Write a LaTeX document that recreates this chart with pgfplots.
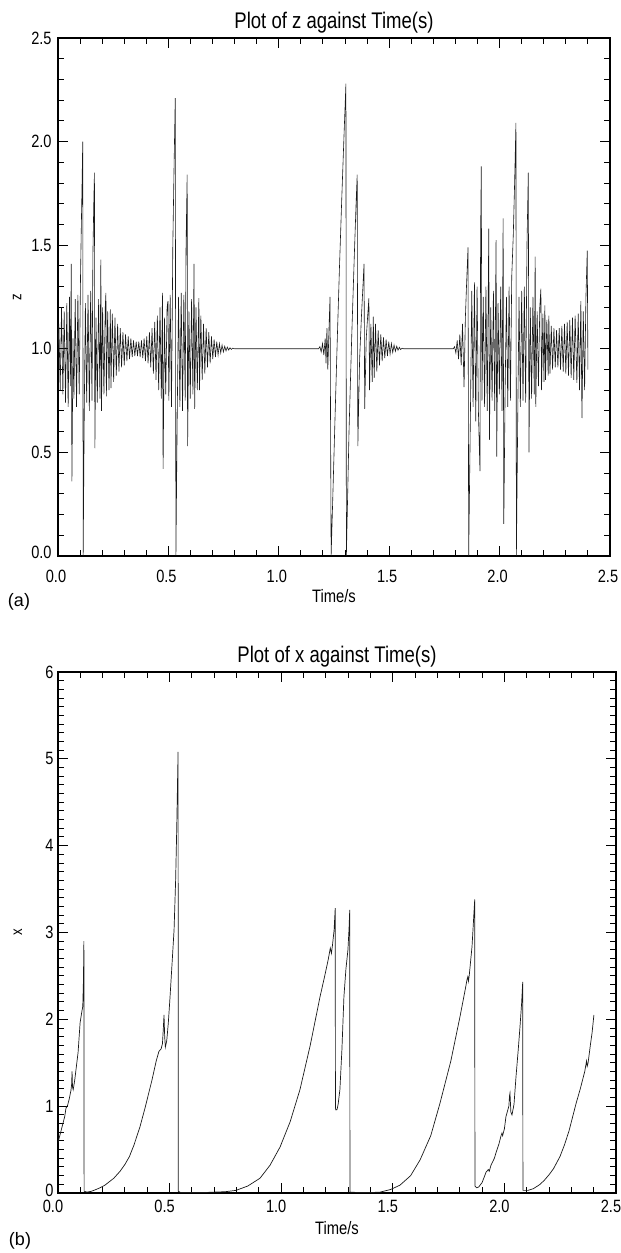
\documentclass[border=0pt]{standalone}
\usepackage{fontspec}
\setmainfont{Liberation Sans}
\newfontfamily\idl{Liberation Sans}[FakeStretch=0.82]
\usepackage{pgfplots}
\pgfplotsset{compat=1.18}
\usepackage{pgfplotstable}

\pgfplotstableread{
t z
0.000 1.00
0.004 1.12
0.010 0.80
0.016 1.20
0.022 0.78
0.028 1.18
0.034 0.74
0.040 1.22
0.046 0.72
0.052 1.25
0.056 0.82
0.060 1.41
0.063 0.36
0.068 1.05
0.072 0.76
0.078 1.24
0.084 0.72
0.090 1.26
0.096 0.78
0.102 1.35
0.105 1.55
0.109 1.80
0.112 2.00
0.114 0.00
0.119 0.70
0.124 1.22
0.130 0.74
0.136 1.26
0.142 0.70
0.148 1.28
0.154 0.75
0.158 1.45
0.162 1.70
0.165 1.85
0.167 0.52
0.172 1.15
0.178 0.74
0.184 1.24
0.190 0.76
0.194 1.43
0.197 0.70
0.202 1.20
0.208 0.78
0.214 1.20
0.217 1.27
0.219 0.77
0.225 1.18
0.231 0.80
0.237 1.19
0.240 0.81
0.246 1.17
0.252 0.84
0.258 1.15
0.264 0.87
0.270 1.12
0.276 0.89
0.282 1.10
0.288 0.91
0.294 1.08
0.300 0.92
0.306 1.07
0.312 0.94
0.318 1.06
0.324 0.95
0.330 1.05
0.336 0.96
0.342 1.04
0.348 0.965
0.354 1.035
0.360 0.965
0.366 1.035
0.372 0.96
0.378 1.04
0.384 0.955
0.390 1.05
0.396 0.94
0.402 1.06
0.408 0.93
0.414 1.08
0.420 0.91
0.426 1.10
0.432 0.88
0.438 1.13
0.444 0.85
0.450 1.16
0.456 0.80
0.462 1.20
0.468 0.76
0.473 1.27
0.476 0.42
0.482 1.15
0.488 0.78
0.494 1.20
0.498 1.23
0.502 0.75
0.508 1.26
0.514 0.72
0.520 1.50
0.526 1.90
0.531 2.21
0.534 0.00
0.540 0.68
0.546 1.25
0.552 0.72
0.558 1.27
0.564 0.70
0.570 1.26
0.576 0.75
0.580 1.50
0.585 1.84
0.587 0.53
0.593 1.18
0.599 0.76
0.605 1.24
0.611 0.78
0.616 1.41
0.619 0.71
0.625 1.20
0.631 0.80
0.638 1.245
0.641 0.80
0.647 1.16
0.653 0.85
0.659 1.12
0.665 0.88
0.671 1.10
0.677 0.91
0.683 1.08
0.689 0.93
0.695 1.06
0.701 0.95
0.707 1.045
0.713 0.96
0.719 1.035
0.725 0.97
0.731 1.025
0.737 0.98
0.743 1.018
0.749 0.985
0.755 1.012
0.761 0.99
0.767 1.008
0.773 0.994
0.779 1.005
0.785 0.997
0.791 1.003
0.800 1.000
1.180 1.000
1.186 1.01
1.192 0.985
1.198 1.025
1.204 0.97
1.210 1.05
1.214 0.93
1.218 1.10
1.222 0.90
1.228 1.12
1.232 1.25
1.237 0.00
1.245 0.30
1.255 0.68
1.265 1.05
1.275 1.40
1.285 1.72
1.295 2.02
1.304 2.28
1.306 0.00
1.318 0.60
1.330 1.05
1.342 1.45
1.350 1.70
1.355 1.84
1.358 0.53
1.366 0.95
1.374 1.15
1.381 1.30
1.386 1.41
1.389 0.71
1.396 1.05
1.402 1.15
1.408 1.245
1.411 0.80
1.417 1.12
1.423 0.84
1.428 1.155
1.432 0.86
1.438 1.12
1.444 0.89
1.450 1.09
1.456 0.92
1.462 1.07
1.468 0.94
1.474 1.055
1.480 0.955
1.486 1.045
1.492 0.965
1.498 1.035
1.504 0.975
1.510 1.025
1.516 0.982
1.522 1.018
1.528 0.988
1.534 1.012
1.540 0.993
1.546 1.007
1.552 0.996
1.558 1.003
1.565 1.000
1.790 1.000
1.796 1.01
1.802 0.98
1.808 1.04
1.814 0.95
1.820 1.07
1.826 0.92
1.832 1.12
1.839 0.815
1.845 1.15
1.850 1.30
1.857 1.49
1.860 0.00
1.868 0.70
1.874 1.28
1.880 0.72
1.886 1.32
1.892 0.65
1.898 1.30
1.904 0.70
1.911 0.41
1.914 1.55
1.917 1.88
1.920 0.75
1.926 1.25
1.932 0.72
1.938 1.30
1.944 0.70
1.951 1.58
1.954 0.56
1.960 1.20
1.966 0.75
1.972 1.28
1.978 0.70
1.984 1.525
1.987 0.48
1.993 1.22
1.999 0.78
2.005 1.30
2.011 0.70
2.016 1.63
2.019 0.155
2.025 0.80
2.031 1.25
2.037 0.72
2.043 1.30
2.049 0.75
2.055 1.35
2.062 1.55
2.068 1.80
2.074 2.09
2.076 0.00
2.082 0.65
2.088 1.25
2.094 0.72
2.100 1.28
2.106 0.75
2.112 1.30
2.118 0.74
2.124 1.50
2.130 1.85
2.133 0.50
2.139 1.20
2.145 0.76
2.151 1.25
2.157 0.78
2.161 1.445
2.164 0.72
2.170 1.18
2.176 0.82
2.182 1.20
2.187 1.29
2.190 0.80
2.196 1.17
2.201 0.84
2.205 1.21
2.208 0.85
2.214 1.14
2.220 0.87
2.223 1.16
2.228 0.88
2.234 1.11
2.240 0.90
2.246 1.10
2.252 0.91
2.258 1.09
2.264 0.91
2.270 1.10
2.276 0.90
2.282 1.11
2.288 0.89
2.294 1.12
2.300 0.88
2.306 1.13
2.312 0.87
2.318 1.14
2.324 0.86
2.330 1.15
2.336 0.85
2.342 1.16
2.350 0.835
2.356 1.17
2.362 0.80
2.368 1.23
2.373 0.666
2.379 1.18
2.385 0.80
2.391 1.25
2.395 1.40
2.397 1.474
2.400 0.90
}\zdata

\pgfplotstableread{
t x
0.000 0.58
0.010 0.68
0.020 0.78
0.030 0.88
0.036 0.98
0.042 1.00
0.050 1.08
0.058 1.18
0.061 1.25
0.063 1.40
0.065 1.22
0.068 1.19
0.075 1.30
0.082 1.45
0.090 1.62
0.099 1.96
0.105 2.06
0.111 2.15
0.114 2.45
0.116 2.90
0.117 0.02
0.130 0.01
0.150 0.02
0.170 0.04
0.188 0.06
0.210 0.09
0.230 0.13
0.250 0.17
0.278 0.25
0.300 0.33
0.320 0.42
0.340 0.55
0.367 0.76
0.390 0.98
0.421 1.30
0.440 1.52
0.452 1.63
0.462 1.66
0.468 1.72
0.472 1.90
0.475 2.05
0.478 1.80
0.481 1.68
0.487 1.75
0.494 1.95
0.502 2.26
0.510 2.60
0.520 3.03
0.527 3.60
0.532 4.20
0.536 4.80
0.538 5.08
0.539 0.02
0.550 0.005
0.600 0.005
0.650 0.005
0.700 0.01
0.750 0.015
0.797 0.03
0.850 0.08
0.905 0.17
0.950 0.32
0.995 0.53
1.040 0.82
1.084 1.19
1.130 1.70
1.174 2.26
1.195 2.50
1.210 2.68
1.220 2.82
1.225 2.76
1.230 2.86
1.237 3.03
1.242 3.28
1.243 0.98
1.245 0.956
1.250 0.96
1.255 1.02
1.263 1.19
1.272 1.65
1.281 2.26
1.290 2.58
1.299 2.80
1.304 3.05
1.307 3.26
1.308 0.01
1.350 0.005
1.400 0.005
1.443 0.01
1.490 0.04
1.532 0.09
1.580 0.20
1.622 0.38
1.670 0.66
1.711 1.03
1.760 1.52
1.801 2.03
1.825 2.35
1.832 2.45
1.836 2.49
1.839 2.44
1.843 2.52
1.855 2.84
1.867 3.38
1.868 0.08
1.876 0.06
1.885 0.07
1.900 0.12
1.918 0.24
1.928 0.27
1.932 0.25
1.940 0.32
1.955 0.40
1.962 0.46
1.975 0.56
1.985 0.66
1.989 0.69
1.992 0.66
2.000 0.74
2.007 0.88
2.020 1.00
2.023 1.12
2.025 1.15
2.029 0.93
2.034 0.90
2.043 1.02
2.052 1.34
2.062 1.65
2.070 1.92
2.077 2.18
2.082 2.43
2.083 0.03
2.106 0.03
2.130 0.05
2.160 0.10
2.180 0.15
2.200 0.21
2.220 0.28
2.249 0.42
2.270 0.56
2.290 0.72
2.321 1.03
2.340 1.20
2.360 1.40
2.368 1.52
2.371 1.46
2.375 1.50
2.385 1.70
2.393 1.85
2.401 2.05
}\xdata

\pgfplotsset{
  idlaxis/.style={
    scale only axis,
    anchor=south west,
    xmin=0, xmax=2.5,
    xtick={0,0.5,1,1.5,2,2.5},
    minor x tick num=4,
    tick align=inside,
    major tick length=5pt,
    minor tick length=2.8pt,
    axis line style={line width=0.6pt},
    every tick/.style={line width=0.5pt, black},
    /pgf/number format/assume math mode=true,
    ticklabel style={font=\idl\fontsize{8.9}{10}\selectfont},
    x tick label style={anchor=center,
      /pgf/number format/fixed,
      /pgf/number format/fixed zerofill,
      /pgf/number format/precision=1},
    y tick label style={anchor=east, inner sep=0pt},
    xlabel style={at={(axis description cs:0.5,0)}, anchor=base,
      font=\idl\fontsize{9}{10}\selectfont},
    ylabel style={anchor=center, font=\idl\fontsize{8}{9}\selectfont},
    every axis title/.style={at={(axis description cs:0.5,1)}, anchor=base,
      font=\idl\fontsize{11.3}{13}\selectfont},
    xlabel={Time/s},
  }
}

\begin{document}
\begin{tikzpicture}
\useasboundingbox (0,0) rectangle (310.5pt,626.5pt);

\begin{axis}[idlaxis,
  at={(29pt,348.5pt)},
  width=276pt, height=259pt,
  ymin=0, ymax=2.5,
  ytick={0,0.5,1,1.5,2,2.5},
  yticklabels={\raisebox{4pt}{0.0},0.5,1.0,1.5,2.0,2.5},
  minor y tick num=4,
  x tick label style={yshift=-10.3pt, xshift=-1pt},
  y tick label style={xshift=-3pt},
  xlabel style={yshift=-23.5pt},
  ylabel style={at={(axis description cs:-0.074,0.5)}},
  title style={yshift=4.6pt},
  title={Plot of z against Time(s)},
  ylabel={z},
]
\addplot[black!90, line width=0.3pt] table[x=t, y=z] {\zdata};
\end{axis}

\begin{axis}[idlaxis,
  at={(29pt,30pt)},
  width=279pt, height=260.5pt,
  ymin=0, ymax=6,
  ytick={0,1,2,3,4,5,6},
  yticklabels={\raisebox{2.5pt}{0},1,2,3,4,5,6},
  minor y tick num=9,
  x tick label style={yshift=-6.7pt, xshift=-2.5pt},
  y tick label style={xshift=-2pt},
  xlabel style={yshift=-20.5pt},
  ylabel style={at={(axis description cs:-0.0717,0.5)}},
  title style={yshift=5pt},
  title={Plot of x against Time(s)},
  ylabel={x},
]
\addplot[black!90, line width=0.35pt] table[x=t, y=x] {\xdata};
\end{axis}

\node[font=\fontsize{9}{10}\selectfont] at (9.5pt,325.5pt) {(a)};
\node[font=\fontsize{9}{10}\selectfont] at (10pt,6pt) {(b)};
\end{tikzpicture}
\end{document}
